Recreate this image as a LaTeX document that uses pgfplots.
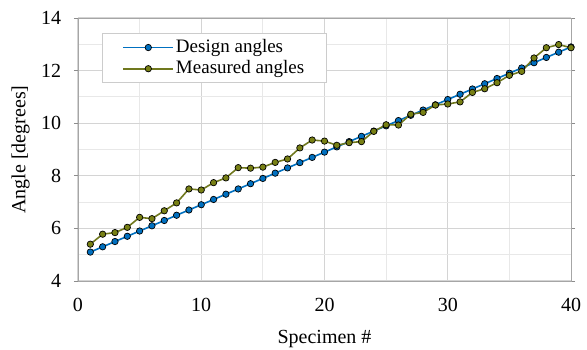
\documentclass[border=0pt]{standalone}
\usepackage{pgfplots}
\pgfplotsset{compat=1.18}
\usepackage{fontspec}
\setmainfont{Liberation Serif}
\definecolor{dblue}{RGB}{0,112,192}
\definecolor{olivel}{RGB}{112,120,30}
\definecolor{olivem}{RGB}{120,128,20}
\begin{document}
\fontsize{20}{24}\selectfont
\begin{tikzpicture}
\path[use as bounding box] (-78pt,-69pt) rectangle (509pt,281pt);
\begin{axis}[
  scale only axis, width=493pt, height=263pt,
  at={(0,0)}, anchor=south west,
  xmin=0, xmax=40, ymin=4, ymax=14,
  xtick={0,10,...,40}, ytick={4,6,...,14},
  minor xtick={5,15,25,35}, minor ytick={5,7,...,13},
  grid=both,
  major grid style={draw=black!17, line width=1pt},
  minor grid style={draw=black!9, line width=1pt},
  axis line style={draw=black!35, line width=0.9pt},
  xtick style={draw=none},
  ytick style={draw=black!45, line width=0.8pt},
  minor tick length=0pt,
  major tick length=4pt,
  tick align=outside,
  tick label style={font=\fontsize{20}{24}\selectfont},
  /pgf/number format/assume math mode=true,
  xlabel={Specimen \#}, ylabel={Angle [degrees]},
  label style={font=\fontsize{20}{24}\selectfont},
  xlabel style={yshift=-5pt},
  ylabel style={yshift=-2pt},
  xticklabel style={yshift=-6pt},
  yticklabel style={xshift=-6pt},
  legend style={at={(0.049,0.943)}, anchor=north west, draw=black!20, line width=0.9pt,
    font=\fontsize{19}{21}\selectfont, row sep=1pt, inner xsep=20pt, inner ysep=4pt},
  legend cell align=left,
  legend image code/.code={
    \draw[#1, line width=1.6pt, mark=none] (0cm,0cm) -- (1.75cm,0cm);
    \draw[#1, mark repeat=1] plot coordinates {(0.875cm,0cm)};
  },
]
\addplot[dblue, line width=1.6pt, mark=*, mark size=3.2pt,
  mark options={fill=dblue, draw=black, line width=0.7pt}] coordinates {
(1,5.1)(2,5.3)(3,5.5)(4,5.7)(5,5.9)(6,6.1)(7,6.3)(8,6.5)(9,6.7)(10,6.9)
(11,7.1)(12,7.3)(13,7.5)(14,7.7)(15,7.9)(16,8.1)(17,8.3)(18,8.5)(19,8.7)(20,8.9)
(21,9.1)(22,9.3)(23,9.5)(24,9.7)(25,9.9)(26,10.1)(27,10.3)(28,10.5)(29,10.7)(30,10.9)
(31,11.1)(32,11.3)(33,11.5)(34,11.7)(35,11.9)(36,12.1)(37,12.3)(38,12.5)(39,12.7)(40,12.9)};
\addlegendentry{Design angles}
\addplot[olivel, line width=1.6pt, mark=*, mark size=3.2pt,
  mark options={fill=olivem, draw=black, line width=0.7pt}] coordinates {
(1,5.40)(2,5.78)(3,5.84)(4,6.04)(5,6.42)(6,6.37)(7,6.67)(8,6.97)(9,7.50)(10,7.46)
(11,7.74)(12,7.92)(13,8.31)(14,8.29)(15,8.33)(16,8.51)(17,8.64)(18,9.06)(19,9.36)(20,9.32)
(21,9.16)(22,9.26)(23,9.30)(24,9.69)(25,9.94)(26,9.93)(27,10.34)(28,10.41)(29,10.69)(30,10.73)
(31,10.81)(32,11.17)(33,11.31)(34,11.54)(35,11.82)(36,11.97)(37,12.48)(38,12.87)(39,12.99)(40,12.87)};
\addlegendentry{Measured angles}
\end{axis}
\end{tikzpicture}
\end{document}
